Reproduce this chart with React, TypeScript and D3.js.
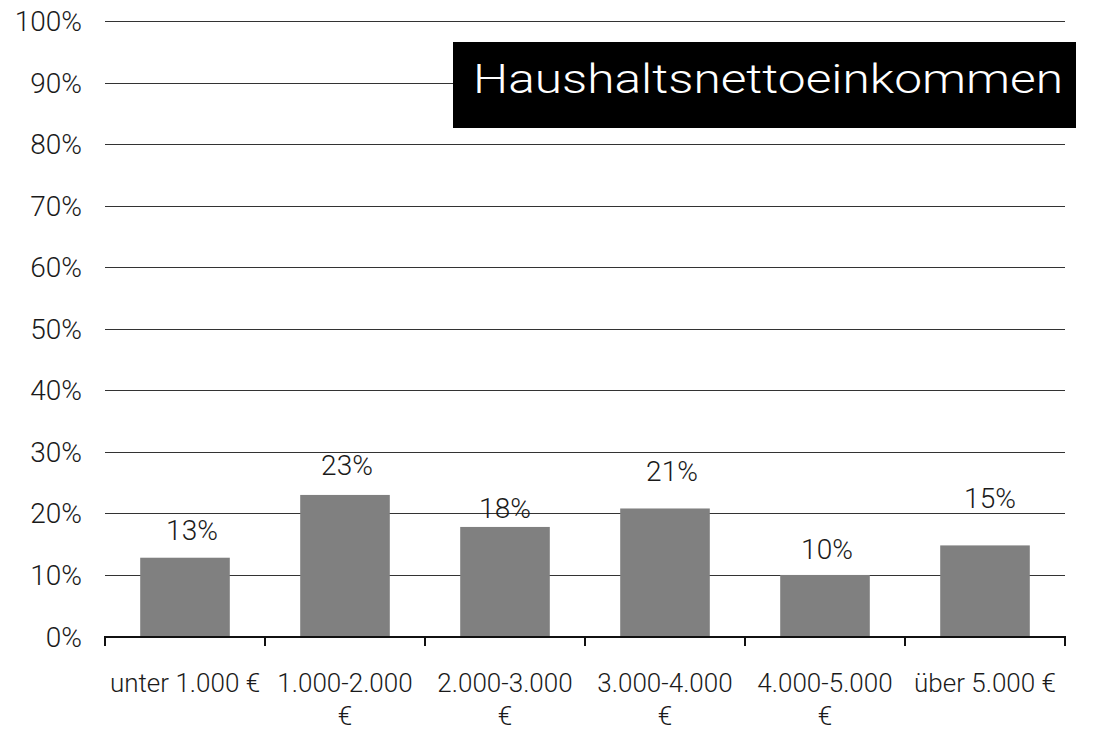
import React from "react";
import * as d3 from "d3";

// "\n" marks where the reference breaks a tick label onto a second line
const categories = ["unter 1.000 €", "1.000-2.000\n€", "2.000-3.000\n€", "3.000-4.000\n€", "4.000-5.000\n€", "über 5.000 €"];
const values = [12.8, 23.0, 17.8, 20.8, 10.0, 14.8];
const yTicks = [0, 10, 20, 30, 40, 50, 60, 70, 80, 90, 100];
const title = "Haushaltsnettoeinkommen";
// label placement nudges (px) as in the reference
const labelDx = [7, 2, 0, 7, 2, 5];
const labelDy = [-18, -20, -9, -27, -16, -37];

const W = 1093;
const H = 733;
const FONT = "Roboto, 'Noto Sans', sans-serif";

export default function App() {
  const x = d3.scaleBand<string>().domain(categories).range([105, 1065]).paddingInner(0.44).paddingOuter(0.22);
  const band = d3.scaleBand<string>().domain(categories).range([105, 1065]);
  const y = d3.scaleLinear().domain([0, 100]).range([636.5, 21]);
  const fmt = (v: number) => `${Math.round(v)}%`;

  return (
    <svg width={W} height={H} style={{ position: "absolute", left: 0, top: 0, background: "#fff" }} fontFamily={FONT}>
      {/* gridlines */}
      {yTicks.filter((t) => t > 0).map((t) => (
        <line key={t} x1={105} x2={1065} y1={Math.round(y(t)) + 0.5} y2={Math.round(y(t)) + 0.5} stroke="#333" strokeWidth={1} />
      ))}
      {/* y labels */}
      {yTicks.map((t) => (
        <text key={t} x={82} y={y(t) + 10} textAnchor="end" fontSize={28} fontWeight={300} fill="#1a1a1a">
          {`${t}%`}
        </text>
      ))}
      {/* bars */}
      {categories.map((c, i) => (
        <rect key={c} x={x(c)} y={y(values[i])} width={x.bandwidth()} height={y(0) - y(values[i])} fill="#808080" />
      ))}
      {/* x axis */}
      <line x1={104} x2={1066} y1={637} y2={637} stroke="#111" strokeWidth={2} />
      {[...categories.map((c) => band(c) as number), 1065].map((tx, i) => (
        <line key={i} x1={tx} x2={tx} y1={637} y2={646} stroke="#111" strokeWidth={2} />
      ))}
      {/* category labels */}
      {categories.map((c) => {
        const lines = c.split("\n");
        const cx = (band(c) as number) + band.bandwidth() / 2;
        return (
          <text key={c} x={cx} y={692} textAnchor="middle" fontSize={26} fontWeight={300} fill="#1a1a1a">
            {lines.map((l, j) => (
              <tspan key={j} x={cx} dy={j === 0 ? 0 : 33}>
                {l}
              </tspan>
            ))}
          </text>
        );
      })}
      {/* value labels */}
      {categories.map((c, i) => (
        <text key={c} x={(x(c) as number) + x.bandwidth() / 2 + labelDx[i]} y={y(values[i]) + labelDy[i]} textAnchor="middle" fontSize={28} fontWeight={300} fill="#1a1a1a">
          {fmt(values[i])}
        </text>
      ))}
      {/* title box */}
      <rect x={453} y={42} width={623} height={86} fill="#000" />
      <text x={473} y={93} fontSize={41} fontWeight={300} fill="#fff" textLength={590} lengthAdjust="spacingAndGlyphs">
        {title}
      </text>
    </svg>
  );
}
